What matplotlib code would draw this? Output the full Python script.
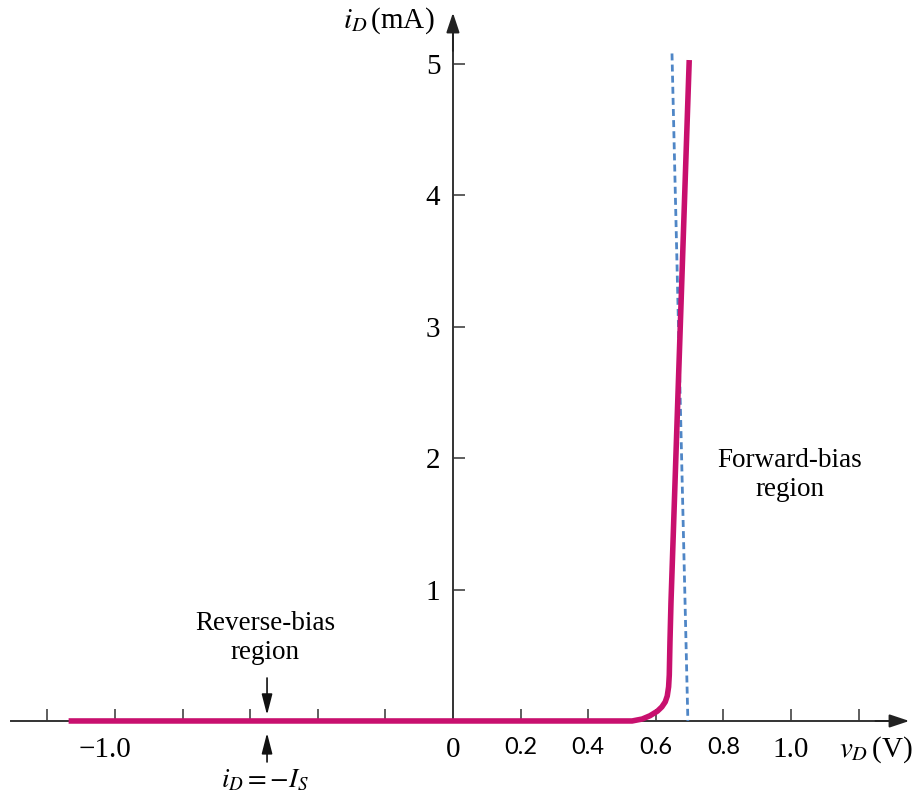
import matplotlib.pyplot as plt

plt.rcParams['font.family'] = ['Liberation Serif', 'DejaVu Serif']
plt.rcParams['mathtext.fontset'] = 'stix'

# diode i-v characteristic (volts, mA)
v_curve = [-1.137, 0.53, 0.56, 0.583, 0.605, 0.618, 0.628, 0.634, 0.638, 0.640, 0.642, 0.645, 0.699]
i_curve = [0.0, 0.0, 0.015, 0.04, 0.075, 0.107, 0.145, 0.19, 0.26, 0.35, 0.6, 0.9, 5.03]

# straight-line approximation of the forward region
v_approx = [0.648, 0.695]
i_approx = [5.08, 0.0]

x_ticks = [-1.2, -1.0, -0.8, -0.6, -0.4, -0.2, 0.2, 0.4, 0.6, 0.8, 1.0, 1.2]
y_ticks = [1, 2, 3, 4, 5]
serif_xlabels = {-1.0: '\u22121.0', 0.0: '0', 1.0: '1.0'}
sans_xlabels = {0.2: '0.2', 0.4: '0.4', 0.6: '0.6', 0.8: '0.8'}

axis_col = '#333333'

fig = plt.figure(figsize=(9.13, 7.96), dpi=100)
ax = fig.add_axes([0, 0, 1, 1])
ax.set_xlim(-1.340, 1.361)
ax.set_ylim(-0.571, 5.487)

for side in ['top', 'right']:
    ax.spines[side].set_visible(False)
ax.spines['bottom'].set_position(('data', 0))
ax.spines['left'].set_position(('data', 0))
ax.spines['bottom'].set_bounds(-1.308, 1.32)
ax.spines['left'].set_bounds(0, 5.3)
for side in ['bottom', 'left']:
    ax.spines[side].set_color(axis_col)
    ax.spines[side].set_linewidth(1.4)
    ax.spines[side].set_zorder(1)

ax.set_xticks(x_ticks)
ax.set_xticklabels([])
ax.set_yticks(y_ticks)
ax.set_yticklabels([str(t) for t in y_ticks])
ax.tick_params(direction='in', length=8.6, width=1.1, color=axis_col)
ax.tick_params(axis='y', pad=9, labelsize=21)

# arrow heads on both axes
head = dict(arrowstyle='-|>,head_length=0.6,head_width=0.2', color='#222222',
            lw=1.4, shrinkA=0, shrinkB=0, mutation_scale=20)
ax.annotate('', xy=(1.35, 0), xytext=(1.25, 0), arrowprops=head)
ax.annotate('', xy=(0, 5.39), xytext=(0, 5.1), arrowprops=head)

# x tick labels in two fonts
for v, s in serif_xlabels.items():
    dx = -7 if v < 0 else 0
    ax.annotate(s, xy=(v, -0.274), xytext=(dx, 0), textcoords='offset points',
                ha='center', va='baseline', fontsize=21)
for v, s in sans_xlabels.items():
    ax.text(v, -0.251, s, ha='center', va='baseline', fontsize=17,
            family=['Lato', 'DejaVu Sans'])

ax.text(1.359, -0.274, r'$v_D\,$(V)', ha='right', va='baseline', fontsize=21)
ax.text(-0.054, 5.33, r'$i_D\,$(mA)', ha='right', va='center', fontsize=21)

ax.plot(v_curve, i_curve, color='#C8106E', lw=4.0, solid_capstyle='butt',
        solid_joinstyle='round', zorder=3)
ax.plot(v_approx, i_approx, color='#4F86C6', lw=2.0, ls=(0, (2.5, 1.5)), zorder=2)

# region labels
ax.text(-0.556, 0.63, 'Reverse-bias\nregion', ha='center', va='center',
        fontsize=19.5, linespacing=1.2)
ax.text(0.997, 1.87, 'Forward-bias\nregion', ha='center', va='center',
        fontsize=19.5, linespacing=1.2)

thin = dict(arrowstyle='-|>,head_length=0.7,head_width=0.18', color='#111111',
            lw=1.2, shrinkA=0, shrinkB=0, mutation_scale=18)
ax.annotate('', xy=(-0.55, 0.046), xytext=(-0.55, 0.327), arrowprops=thin)
ax.annotate('', xy=(-0.55, -0.091), xytext=(-0.55, -0.312), arrowprops=thin)
ax.text(-0.556, -0.45, r'$i_D = -I_S$', ha='center', va='center', fontsize=19.5)

fig.savefig('out.png', dpi=100)
